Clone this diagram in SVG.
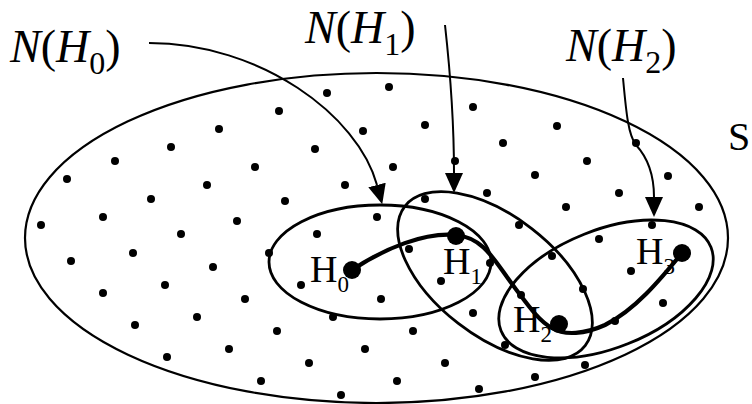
<svg xmlns="http://www.w3.org/2000/svg" width="752" height="404" viewBox="0 0 752 404">
<defs>
<style>
.bg{fill:#fff}
.outer{fill:none;stroke:#000;stroke-width:2.2}
.nb{fill:none;stroke:#000;stroke-width:2.8}
.arr{fill:none;stroke:#000;stroke-width:2;marker-end:url(#ah)}
.walk{fill:none;stroke:#000;stroke-width:4.2;stroke-linecap:round}
.pt{fill:#000}
.big{fill:#000}
.lbl{font-family:"Liberation Serif","Times New Roman",serif;font-size:46px;fill:#000}
.it{font-style:italic}
.sub{font-size:32px}
.h{font-family:"Liberation Serif","Times New Roman",serif;font-size:38px;fill:#000}
.hs{font-size:23px}
.s{font-family:"Liberation Serif","Times New Roman",serif;font-size:40px;fill:#000}
</style>
<marker id="ah" viewBox="0 0 20 20" markerWidth="20" markerHeight="20" refX="0" refY="10" orient="auto" markerUnits="userSpaceOnUse">
<path d="M0,1 L20,10 L0,19 Z" fill="#000"/>
</marker>
</defs>
<rect class="bg" x="0" y="0" width="752" height="404"/>

<g id="S">
<ellipse class="outer" cx="376.5" cy="238" rx="351.5" ry="165"/>
<text class="s" x="728" y="150">S</text>
</g>

<g id="points">
<circle class="pt" cx="171" cy="147" r="4"/><circle class="pt" cx="115" cy="161" r="4"/><circle class="pt" cx="67" cy="179" r="4"/>
<circle class="pt" cx="151" cy="199" r="4"/><circle class="pt" cx="103" cy="217" r="4"/><circle class="pt" cx="41" cy="225" r="4"/>
<circle class="pt" cx="181" cy="234" r="4"/><circle class="pt" cx="133" cy="253" r="4"/><circle class="pt" cx="71" cy="261" r="4"/>
<circle class="pt" cx="165" cy="285" r="4"/><circle class="pt" cx="103" cy="293" r="4"/><circle class="pt" cx="135" cy="325" r="4"/>
<circle class="pt" cx="167" cy="357" r="4"/>
<circle class="pt" cx="327" cy="93" r="4"/><circle class="pt" cx="279" cy="111" r="4"/><circle class="pt" cx="219" cy="129" r="4"/>
<circle class="pt" cx="363" cy="131" r="4"/><circle class="pt" cx="315" cy="149" r="4"/><circle class="pt" cx="255" cy="167" r="4"/>
<circle class="pt" cx="207" cy="185" r="4"/><circle class="pt" cx="345" cy="185" r="4"/><circle class="pt" cx="285" cy="201" r="4"/>
<circle class="pt" cx="237" cy="221" r="4"/><circle class="pt" cx="377" cy="217" r="4"/><circle class="pt" cx="317" cy="234" r="4"/>
<circle class="pt" cx="269" cy="253" r="4"/><circle class="pt" cx="213" cy="267" r="4"/><circle class="pt" cx="301" cy="285" r="4"/>
<circle class="pt" cx="245" cy="299" r="4"/><circle class="pt" cx="197" cy="317" r="4"/><circle class="pt" cx="333" cy="317" r="4"/>
<circle class="pt" cx="277" cy="331" r="4"/><circle class="pt" cx="229" cy="349" r="4"/><circle class="pt" cx="365" cy="349" r="4"/>
<circle class="pt" cx="309" cy="363" r="4"/><circle class="pt" cx="261" cy="381" r="4"/><circle class="pt" cx="341" cy="395" r="4"/>
<circle class="pt" cx="389" cy="87" r="4"/><circle class="pt" cx="473" cy="107" r="4"/><circle class="pt" cx="425" cy="125" r="4"/>
<circle class="pt" cx="557" cy="126" r="4"/><circle class="pt" cx="503" cy="143" r="4"/><circle class="pt" cx="455" cy="161" r="4"/>
<circle class="pt" cx="393" cy="167" r="4"/><circle class="pt" cx="535" cy="175" r="4"/><circle class="pt" cx="487" cy="193" r="4"/>
<circle class="pt" cx="425" cy="199" r="4"/><circle class="pt" cx="519" cy="225" r="4"/><circle class="pt" cx="566" cy="207" r="4"/>
<circle class="pt" cx="636" cy="143" r="4"/><circle class="pt" cx="587" cy="161" r="4"/><circle class="pt" cx="668" cy="176" r="4"/>
<circle class="pt" cx="619" cy="193" r="4"/><circle class="pt" cx="699" cy="207" r="4"/><circle class="pt" cx="652" cy="225" r="4"/>
<circle class="pt" cx="409" cy="249" r="4"/><circle class="pt" cx="490" cy="263" r="4"/><circle class="pt" cx="441" cy="281" r="4"/>
<circle class="pt" cx="381" cy="299" r="4"/><circle class="pt" cx="552" cy="256" r="4"/><circle class="pt" cx="521" cy="295" r="4"/>
<circle class="pt" cx="473" cy="313" r="4"/><circle class="pt" cx="413" cy="331" r="4"/><circle class="pt" cx="505" cy="345" r="4"/>
<circle class="pt" cx="445" cy="363" r="4"/><circle class="pt" cx="397" cy="381" r="4"/><circle class="pt" cx="535" cy="377" r="4"/>
<circle class="pt" cx="479" cy="389" r="4"/>
<circle class="pt" cx="599" cy="239" r="4"/><circle class="pt" cx="631" cy="271" r="4"/><circle class="pt" cx="583" cy="289" r="4"/>
<circle class="pt" cx="663" cy="303" r="4"/><circle class="pt" cx="615" cy="321" r="4"/><circle class="pt" cx="585" cy="365" r="4"/>
</g>

<g id="NH0">
<ellipse class="nb" cx="380" cy="262" rx="111" ry="57"/>
<text class="lbl" x="10" y="62"><tspan class="it">N</tspan>(<tspan class="it">H</tspan><tspan class="sub" dy="12">0</tspan><tspan dy="-12">)</tspan></text>
</g>
<g id="NH1">
<ellipse class="nb" cx="495" cy="276" rx="114" ry="60" transform="rotate(37.7 495 276)"/>
<text class="lbl" x="305" y="43"><tspan class="it">N</tspan>(<tspan class="it">H</tspan><tspan class="sub" dy="12">1</tspan><tspan dy="-12">)</tspan></text>
</g>
<g id="NH2">
<ellipse class="nb" cx="606" cy="289" rx="113" ry="59" transform="rotate(-21.7 606 289)"/>
<text class="lbl" x="566" y="61"><tspan class="it">N</tspan>(<tspan class="it">H</tspan><tspan class="sub" dy="12">2</tspan><tspan dy="-12">)</tspan></text>
</g>

<g id="connectors">
<path class="arr" d="M149,43 C260,43 358,115 377,185"/>
<path class="arr" d="M445,25 C450,70 454,120 454,173"/>
<path class="arr" d="M623,78 C626,110 628,135 636,145 C648,158 654,175 654,197"/>
<path class="walk" d="M352,270 C385,248 425,232 456,235 C485,238 495,262 515,288 C530,308 540,322 552,328 C565,336 585,334 605,325 C635,310 660,280 682,253"/>
</g>

<g id="H0">
<circle class="big" cx="352" cy="270" r="9"/>
<text class="h" x="310" y="282">H<tspan class="hs" dy="10">0</tspan></text>
</g>
<g id="H1">
<circle class="big" cx="456" cy="236" r="9"/>
<text class="h" x="443" y="274">H<tspan class="hs" dy="10">1</tspan></text>
</g>
<g id="H2">
<circle class="big" cx="559" cy="324" r="9"/>
<text class="h" x="513" y="332">H<tspan class="hs" dy="10">2</tspan></text>
</g>
<g id="H3">
<circle class="big" cx="682" cy="253" r="9"/>
<text class="h" x="636" y="264">H<tspan class="hs" dy="10">3</tspan></text>
</g>
</svg>
